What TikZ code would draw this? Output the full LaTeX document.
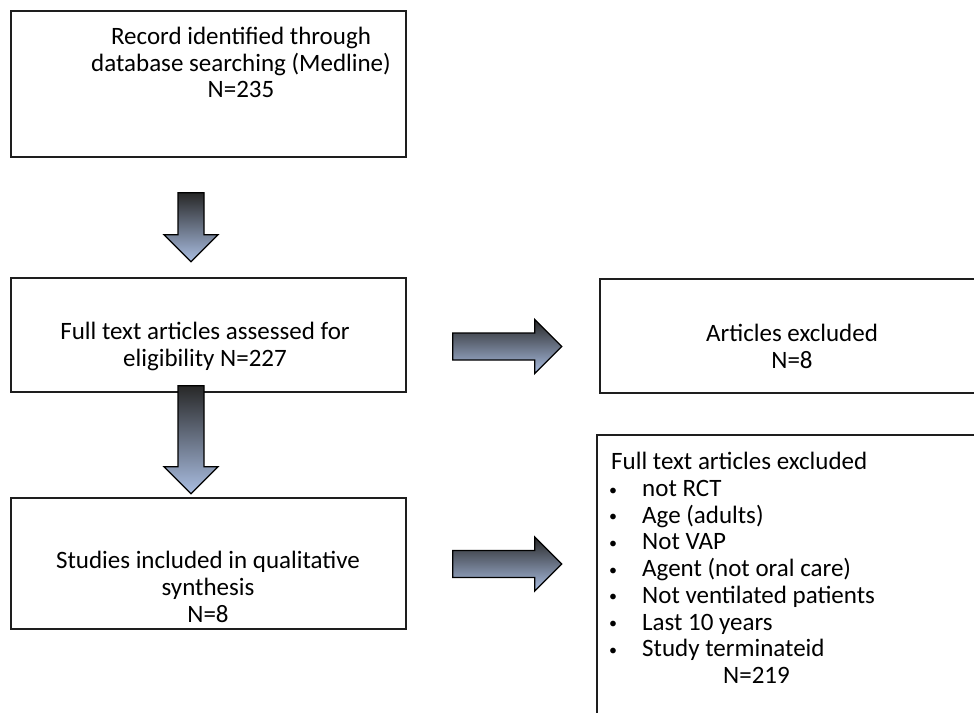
\documentclass[tikz,border=0pt]{standalone}
\usepackage{fontspec}
\setmainfont{Carlito}
\usetikzlibrary{calc}
\definecolor{arrtop}{RGB}{40,40,40}
\definecolor{arrmid}{RGB}{84,90,104}
\definecolor{arrbot}{RGB}{170,190,226}
\definecolor{boxline}{RGB}{30,30,30}
\newcommand{\bul}{\makebox[31pt][l]{\hspace{-2pt}\fontsize{16pt}{16pt}\selectfont\raisebox{1.5pt}{•}}}
\tikzset{
  box/.style={draw=boxline, line width=1.6pt, rectangle, inner sep=0pt},
  txt/.style={font=\fontsize{25pt}{26.7pt}\selectfont, align=center, inner sep=0pt},
  blockarrow/.style={draw=black, line width=1.3pt, line join=miter, top color=arrtop, middle color=arrmid, bottom color=arrbot},
  darr/.pic={\path[blockarrow] (-13,0) -- (13,0) -- (13,#1-27) -- (27,#1-27) -- (0,#1) -- (-27,#1-27) -- (-13,#1-27) -- cycle;},
  rarr/.pic={\path[blockarrow] (0,-13.5) -- (#1-27,-13.5) -- (#1-27,-27) -- (#1,0) -- (#1-27,27) -- (#1-27,13.5) -- (0,13.5) -- cycle;}
}
\begin{document}
\begin{tikzpicture}[x=1pt,y=-1pt]
\useasboundingbox (0,0) rectangle (974,712);
\clip (0,0) rectangle (974,712);
% boxes
\node[box, minimum width=395pt, minimum height=146pt] (b1) at (208.5,84) {};
\node[box, minimum width=395pt, minimum height=114pt] (b2) at (208.5,335) {};
\node[box, minimum width=395pt, minimum height=131pt] (b3) at (208.5,563.5) {};
\node[box, minimum width=420pt, minimum height=114pt, anchor=north west] (b4) at (599,278) {};
\node[box, minimum width=420pt, minimum height=340pt, anchor=north west] (b5) at (596,434) {};
% texts
\node[txt] (t1) at (241,62.5) {Record identified through\\database searching (Medline)\\N=235};
\node[txt] (t2) at (205,346.5) {Full text articles assessed for\\eligibility N=227};
\node[txt] (t3) at (208,587) {Studies included in qualitative\\synthesis\\N=8};
\node[txt] (t4) at (792,346.5) {Articles excluded\\N=8};
\node[txt, align=left, anchor=west] (t5) at (611,568) {Full text articles excluded\\
\bul not RCT\\
\bul Age (adults)\\
\bul Not VAP\\
\bul Agent (not oral care)\\
\bul Not ventilated patients\\
\bul Last 10 years\\
\bul Study terminateid\\
\hspace*{112pt}N=219};
% block arrows
\coordinate (a1) at ($(b1.south)+(-17.5,35)$);
\coordinate (a2) at ($(b2.south)+(-17.5,-7)$);
\coordinate (a3) at ($(b2.east)+(46,11.5)$);
\coordinate (a4) at ($(b3.east)+(46,0.5)$);
\pic at (a1) {darr=69};
\pic at (a2) {darr=108};
\pic at (a3) {rarr=109};
\pic at (a4) {rarr=109};
\end{tikzpicture}
\end{document}
